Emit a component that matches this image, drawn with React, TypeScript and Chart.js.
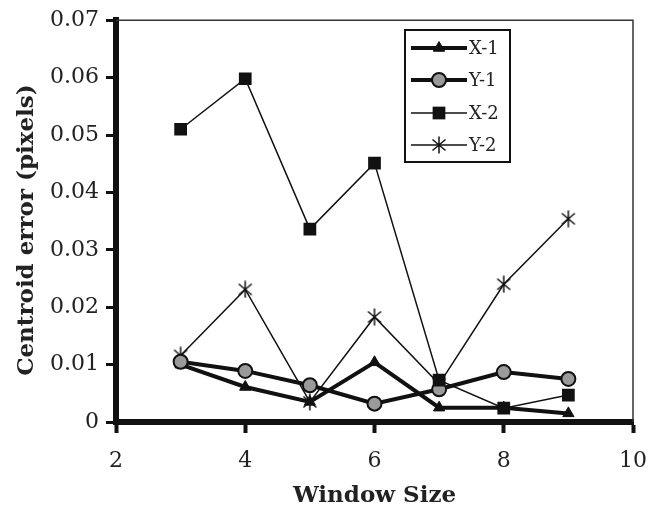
import React, { useEffect, useRef } from "react";
import { Chart, registerables } from "chart.js";

Chart.register(...registerables);

// ---- Data ----
const windowSizes = [3, 4, 5, 6, 7, 8, 9];
const seriesLabels = ["X-1", "Y-1", "X-2", "Y-2"];
const x1Values = [0.01, 0.0061, 0.0035, 0.0104, 0.0025, 0.0025, 0.0015];
const y1Values = [0.0105, 0.0089, 0.0064, 0.0032, 0.0057, 0.0087, 0.0075];
const x2Values = [0.051, 0.0598, 0.0336, 0.0451, 0.0073, 0.0024, 0.0047];
const y2Values = [0.0116, 0.0231, 0.0035, 0.0183, 0.0066, 0.024, 0.0354];
const xTickValues = [2, 4, 6, 8, 10];
const yTickValues = [0, 0.01, 0.02, 0.03, 0.04, 0.05, 0.06, 0.07];
const xAxisTitle = "Window Size";
const yAxisTitle = "Centroid error (pixels)";

const INK = "#111";
const FONT = "'DejaVu Serif', serif";

function makeAsterisk(size: number, lw: number): HTMLCanvasElement {
  const c = document.createElement("canvas");
  c.width = size;
  c.height = size;
  const ctx = c.getContext("2d")!;
  ctx.strokeStyle = INK;
  ctx.lineWidth = lw;
  const cx = size / 2;
  const cy = size / 2;
  const r = size / 2 - 0.5;
  ctx.beginPath();
  ctx.moveTo(cx, cy - r);
  ctx.lineTo(cx, cy + r);
  const a = (40 * Math.PI) / 180;
  const dx = Math.cos(a) * r;
  const dy = Math.sin(a) * r;
  ctx.moveTo(cx - dx, cy - dy);
  ctx.lineTo(cx + dx, cy + dy);
  ctx.moveTo(cx - dx, cy + dy);
  ctx.lineTo(cx + dx, cy - dy);
  ctx.stroke();
  return c;
}

const framePlugin = {
  id: "frame",
  beforeDatasetsDraw(chart: any) {
    const { ctx, chartArea } = chart;
    const { left, right, top, bottom } = chartArea;
    ctx.save();
    ctx.strokeStyle = "#333";
    ctx.lineWidth = 1.5;
    ctx.beginPath();
    ctx.moveTo(left, top);
    ctx.lineTo(right, top);
    ctx.lineTo(right, bottom);
    ctx.stroke();
    ctx.restore();
  },
};

const yTitlePlugin = {
  id: "yTitle",
  afterDraw(chart: any) {
    const { ctx, chartArea } = chart;
    const cy = (chartArea.top + chartArea.bottom) / 2 + 9;
    ctx.save();
    ctx.translate(27, cy);
    ctx.rotate(-Math.PI / 2);
    ctx.fillStyle = "#222";
    ctx.font = `bold 23px ${FONT}`;
    ctx.textAlign = "center";
    ctx.textBaseline = "middle";
    ctx.fillText(yAxisTitle, 0, 0);
    ctx.restore();
  },
};

function drawMarker(ctx: CanvasRenderingContext2D, ds: any, x: number, y: number) {
  const style = ds.pointStyle;
  const r = ds.pointRadius;
  ctx.save();
  ctx.fillStyle = ds.pointBackgroundColor;
  ctx.strokeStyle = ds.pointBorderColor;
  ctx.lineWidth = ds.pointBorderWidth;
  if (style instanceof HTMLCanvasElement) {
    ctx.drawImage(style, x - style.width / 2, y - style.height / 2);
  } else if (style === "triangle") {
    const h = (r * 3) / 2;
    const s = r * Math.sqrt(3);
    ctx.beginPath();
    ctx.moveTo(x, y - r);
    ctx.lineTo(x + s / 2, y - r + h);
    ctx.lineTo(x - s / 2, y - r + h);
    ctx.closePath();
    ctx.fill();
    ctx.stroke();
  } else if (style === "circle") {
    ctx.beginPath();
    ctx.arc(x, y, r, 0, Math.PI * 2);
    ctx.fill();
    ctx.stroke();
  } else if (style === "rect") {
    const s = r * Math.SQRT1_2;
    ctx.fillRect(x - s, y - s, 2 * s, 2 * s);
  }
  ctx.restore();
}

const legendPlugin = {
  id: "boxLegend",
  afterDatasetsDraw(chart: any) {
    const { ctx } = chart;
    const bx = 405;
    const by = 30;
    const bw = 105;
    const bh = 132;
    ctx.save();
    ctx.fillStyle = "#fff";
    ctx.fillRect(bx, by, bw, bh);
    ctx.strokeStyle = INK;
    ctx.lineWidth = 2;
    ctx.strokeRect(bx, by, bw, bh);
    const rows = [48, 80, 113, 145];
    chart.data.datasets.forEach((ds: any, i: number) => {
      const y = rows[i];
      ctx.strokeStyle = ds.borderColor;
      ctx.lineWidth = ds.borderWidth;
      ctx.beginPath();
      ctx.moveTo(411, y);
      ctx.lineTo(467, y);
      ctx.stroke();
      drawMarker(ctx, ds, 439, y);
      ctx.fillStyle = "#222";
      ctx.font = `18px ${FONT}`;
      ctx.textBaseline = "middle";
      ctx.textAlign = "left";
      ctx.fillText(ds.label, 469, y + 1);
    });
    ctx.restore();
  },
};

export default function App() {
  const ref = useRef<HTMLCanvasElement | null>(null);

  useEffect(() => {
    if (!ref.current) return;
    const asterisk = makeAsterisk(18, 1.5);
    const toPts = (vals: number[]) => windowSizes.map((x, i) => ({ x, y: vals[i] }));
    const chart = new Chart(ref.current, {
      type: "line",
      data: {
        datasets: [
          {
            label: seriesLabels[0],
            data: toPts(x1Values),
            borderColor: INK,
            borderWidth: 4,
            pointStyle: "triangle",
            pointRadius: 6.5,
            pointBackgroundColor: INK,
            pointBorderColor: INK,
            pointBorderWidth: 1,
            order: 2,
          },
          {
            label: seriesLabels[1],
            data: toPts(y1Values),
            borderColor: INK,
            borderWidth: 4,
            pointStyle: "circle",
            pointRadius: 7,
            pointBackgroundColor: "#9a9a9a",
            pointBorderColor: INK,
            pointBorderWidth: 2,
            order: 1,
          },
          {
            label: seriesLabels[2],
            data: toPts(x2Values),
            borderColor: INK,
            borderWidth: 1.5,
            pointStyle: "rect",
            pointRadius: 9,
            pointBackgroundColor: INK,
            pointBorderColor: INK,
            pointBorderWidth: 0,
            order: 0,
          },
          {
            label: seriesLabels[3],
            data: toPts(y2Values),
            borderColor: INK,
            borderWidth: 1.5,
            pointStyle: asterisk as any,
            pointRadius: 9,
            pointBackgroundColor: INK,
            pointBorderColor: INK,
            pointBorderWidth: 1,
            order: 3,
          },
        ] as any,
      },
      options: {
        animation: false,
        responsive: true,
        maintainAspectRatio: false,
        layout: { padding: { left: 0, top: 20, right: 24, bottom: 0 } },
        plugins: { legend: { display: false }, tooltip: { enabled: false } },
        elements: { line: { tension: 0 } },
        scales: {
          x: {
            type: "linear",
            min: xTickValues[0],
            max: xTickValues[xTickValues.length - 1],
            afterBuildTicks: (scale: any) => {
              scale.ticks = xTickValues.map((v) => ({ value: v }));
            },
            afterFit: (scale: any) => {
              scale.height = 89;
              scale.paddingRight = 0;
              scale.paddingLeft = 0;
            },
            ticks: {
              color: "#222",
              font: { family: FONT, size: 22 },
              padding: 15,
              maxRotation: 0,
            },
            grid: {
              drawOnChartArea: false,
              drawTicks: true,
              tickLength: 11,
              tickWidth: 4,
              color: INK,
            },
            border: { display: true, width: 6, color: INK },
            title: {
              display: true,
              text: xAxisTitle,
              color: "#222",
              font: { family: FONT, size: 23, weight: "bold" },
              padding: { top: 0, bottom: 1 },
            },
          },
          y: {
            type: "linear",
            min: yTickValues[0],
            max: yTickValues[yTickValues.length - 1],
            afterBuildTicks: (scale: any) => {
              scale.ticks = yTickValues.map((v) => ({ value: v }));
            },
            afterFit: (scale: any) => {
              scale.width = 116;
            },
            ticks: {
              color: "#222",
              font: { family: FONT, size: 22 },
              padding: 7,
              callback: (v: any) => String(Number(Number(v).toFixed(2))),
            },
            grid: {
              drawOnChartArea: false,
              drawTicks: true,
              tickLength: 10,
              tickWidth: 3,
              color: INK,
            },
            border: { display: true, width: 6, color: INK },
            title: { display: false },
          },
        },
      },
      plugins: [framePlugin, legendPlugin, yTitlePlugin],
    } as any);
    return () => chart.destroy();
  }, []);

  return (
    <div
      style={{
        position: "absolute",
        left: 0,
        top: 0,
        width: 657,
        height: 511,
        background: "#fff",
      }}
    >
      <canvas ref={ref} />
    </div>
  );
}
